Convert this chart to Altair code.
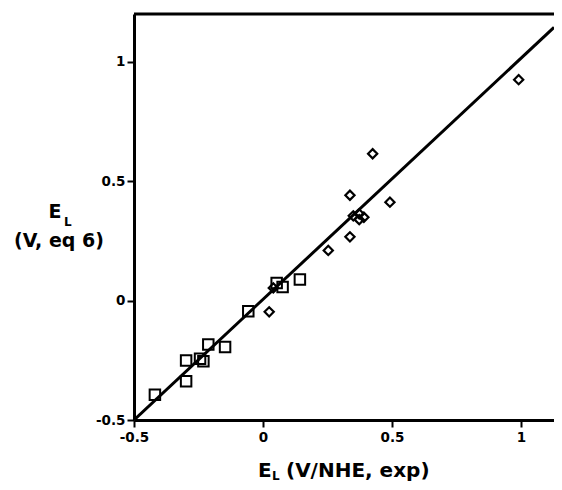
import altair as alt
import pandas as pd

# Diamonds (open)
diamond_x = [0.991, 0.425, 0.337, 0.492, 0.350, 0.373, 0.373, 0.391, 0.337, 0.253, 0.024, 0.040]
diamond_y = [0.925, 0.615, 0.441, 0.412, 0.355, 0.363, 0.339, 0.349, 0.267, 0.210, -0.047, 0.053]
# Squares (open)
square_x = [-0.057, 0.053, 0.076, 0.143, -0.212, -0.147, -0.298, -0.244, -0.231, -0.298, -0.419]
square_y = [-0.045, 0.074, 0.057, 0.088, -0.184, -0.194, -0.251, -0.244, -0.254, -0.338, -0.394]
# Fit line
line_x = [-0.5, 1.128]
line_y = [-0.5, 1.144]

tick_values = [-0.5, 0, 0.5, 1]
x_domain = [-0.5, 1.128]
y_domain = [-0.5, 1.2]

W, H = 420, 406
FONT = "DejaVu Sans"

xs = alt.Scale(domain=x_domain, nice=False, zero=False)
ys = alt.Scale(domain=y_domain, nice=False, zero=False)

axis_common = dict(
    values=tick_values, title=None, grid=False,
    domainWidth=3, domainColor="black",
    tickColor="black", tickWidth=2, tickSize=7,
    labelFont=FONT, labelFontWeight="bold", labelFontSize=13.5,
    labelColor="black", labelFlush=False,
    labelExpr="'' + datum.value",
)
x_axis = alt.Axis(labelPadding=3, **axis_common)
y_axis = alt.Axis(labelPadding=2, **axis_common)

dia_df = pd.DataFrame({"x": diamond_x, "y": diamond_y})
sq_df = pd.DataFrame({"x": square_x, "y": square_y})
line_df = pd.DataFrame({"x": line_x, "y": line_y})

line = alt.Chart(line_df).mark_line(color="black", strokeWidth=3, clip=True).encode(
    x=alt.X("x:Q", scale=xs, axis=x_axis),
    y=alt.Y("y:Q", scale=ys, axis=y_axis),
)
diamonds = alt.Chart(dia_df).mark_point(
    shape="diamond", filled=False, size=85, strokeWidth=2.2, color="black", opacity=1
).encode(x=alt.X("x:Q", scale=xs), y=alt.Y("y:Q", scale=ys))
squares = alt.Chart(sq_df).mark_point(
    shape="square", filled=False, size=110, strokeWidth=2, color="black", opacity=1
).encode(x=alt.X("x:Q", scale=xs), y=alt.Y("y:Q", scale=ys))

top_border = alt.Chart(pd.DataFrame({"a": [0]})).mark_rule(color="black", strokeWidth=3).encode(
    x=alt.value(0), x2=alt.value(W), y=alt.value(0)
)


def txt(s, x, y, size, align="left"):
    return alt.Chart(pd.DataFrame({"t": [s]})).mark_text(
        font=FONT, fontWeight="bold", fontSize=size, color="black",
        align=align, baseline="alphabetic"
    ).encode(x=alt.value(x), y=alt.value(y), text="t:N")


titles = [
    txt("E", -79, 204, 19, "center"),
    txt("L", -70, 212, 12),
    txt("(V, eq 6)", -75, 233, 19, "center"),
    txt("E", 124, 463, 20),
    txt("L", 138, 466, 12),
    txt("(V/NHE, exp)", 152, 463, 20),
]

chart = alt.layer(line, diamonds, squares, top_border, *titles).properties(
    width=W, height=H,
    autosize=alt.AutoSizeParams(type="none"),
    padding={"left": 126, "top": 6, "right": 0, "bottom": 62},
).configure_view(stroke=None).configure(background="white")

chart.save("out.html", embed_options={"renderer": "svg", "actions": False})
